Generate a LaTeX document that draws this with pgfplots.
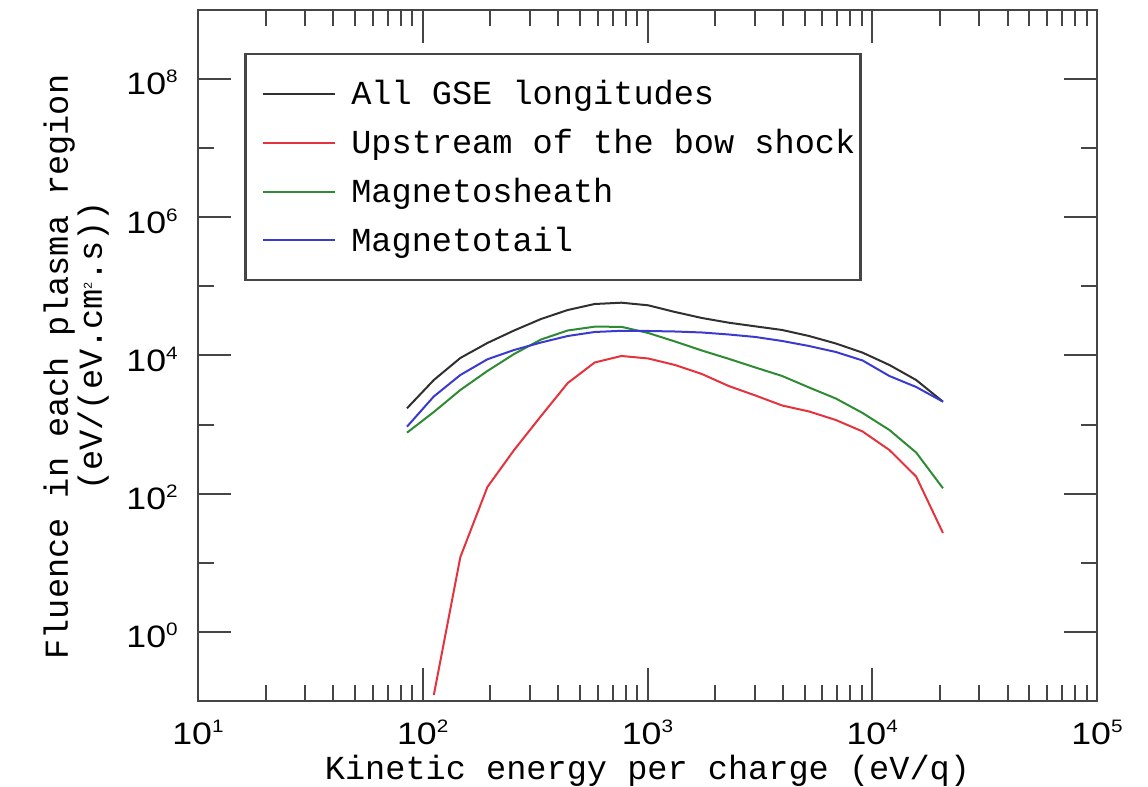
\documentclass[border=0pt]{standalone}
\usepackage{fontspec}
\usepackage{pgfplots}
\usepackage{pgfplotstable}
\pgfplotsset{compat=1.18}
\setmainfont{Liberation Mono}
\newfontfamily\ticksans{Liberation Sans}
\newcommand\lblfont{\fontsize{16.8pt}{17pt}\selectfont}
\newcommand\tk[1]{\scalebox{1.15}[1]{10\raisebox{6pt}{\fontsize{9pt}{9pt}\selectfont #1}}}
\definecolor{framegray}{HTML}{454545}
\definecolor{cAll}{HTML}{303030}
\definecolor{cUp}{HTML}{E5333D}
\definecolor{cSheath}{HTML}{2E8B34}
\definecolor{cTail}{HTML}{3A3AD0}

% Fluence per plasma region versus energy per charge
\pgfplotstableread{
E      all    up     sheath  tail
85.1   1722   nan    764     933
112    4416   0.122  1521    2552
147    9204   12.1   3168    5220
194    15170  125    5970    8810
255    23010  429    10510   12020
336    33750  1331   17050   15420
442    45540  4000   23010   19150
582    55600  7920   26120   21880
766    58080  9840   26000   22760
1007   53250  9050   21170   22630
1325   42630  7290   15950   22240
1745   34900  5400   11810   21530
2296   29850  3620   8960    20140
3021   26400  2637   6700    18530
3975   23390  1889   5050    16220
5231   19150  1549   3444    13720
6883   14920  1166   2387    11240
9057   10990  795    1472    8470
11918  7290   429    836     5050
15682  4416   177    394     3500
20635  2145   27.0   120     2145
}\fluence

\begin{document}
\begin{tikzpicture}
\begin{axis}[
  scale only axis,
  width=449.5pt, height=345.5pt,
  xmode=log, ymode=log,
  xmin=10, xmax=1e5, ymin=0.1, ymax=1e9,
  axis line style={framegray, line width=1.25pt},
  tick style={framegray, line width=1pt},
  tick align=inside,
  major tick length=16.5pt, minor tick length=8pt,
  xtick={10,100,1000,1e4,1e5},
  xticklabels={\tk{1},\tk{2},\tk{3},\tk{4},\tk{5}},
  minor xtick={20,30,40,50,60,70,80,90,200,300,400,500,600,700,800,900,
    2000,3000,4000,5000,6000,7000,8000,9000,20000,30000,40000,50000,60000,70000,80000,90000},
  ytick={1,100,1e4,1e6,1e8},
  yticklabels={\tk{0},\tk{2},\tk{4},\tk{6},\tk{8}},
  minor ytick={0.1,10,1000,1e5,1e7,1e9},
  tick label style={font=\ticksans\fontsize{15.5pt}{15.5pt}\selectfont, inner sep=0pt},
  xticklabel style={anchor=base, yshift=-22pt},
  yticklabel style={anchor=base east, xshift=-10pt, yshift=-7.9pt},
  xlabel={Kinetic energy per charge (eV/q)},
  xlabel style={font=\lblfont, at={(rel axis cs:0.5,-0.1143)}, anchor=base, inner sep=0pt},
  ylabel={Fluence in each plasma region\\\hspace*{21pt}(eV/(eV.cm\raisebox{5pt}{\fontsize{6pt}{6pt}\selectfont 2}.s))},
  ylabel style={font=\lblfont, align=center, at={(rel axis cs:-0.1724,0.4834)}, anchor=north, inner sep=0pt},
  legend cell align=left,
  legend style={at={(rel axis cs:0.0512,0.9378)}, anchor=north west,
    draw=framegray, line width=1.25pt, fill=white, font=\lblfont,
    inner xsep=2.5pt, inner ysep=13pt, row sep=10.75pt,
    nodes={inner sep=0pt}},
  legend image code/.code={\draw[#1] (0pt,0pt) -- (36pt,0pt); \path (-6pt,0pt) (43.5pt,0pt);},
]
\addplot[cAll, line width=1pt] table[x=E, y=all] {\fluence};
\addlegendentry{All GSE longitudes}
\addplot[cUp, line width=1pt] table[x=E, y=up] {\fluence};
\addlegendentry{Upstream of the bow shock}
\addplot[cSheath, line width=1pt] table[x=E, y=sheath] {\fluence};
\addlegendentry{Magnetosheath}
\addplot[cTail, line width=1pt] table[x=E, y=tail] {\fluence};
\addlegendentry{Magnetotail}
\coordinate (bbsw) at (rel axis cs:-0.22024,-0.12446);
\coordinate (bbne) at (rel axis cs:1.05673,1.01447);
\end{axis}
\pgfresetboundingbox
\useasboundingbox (bbsw) rectangle (bbne);
\end{tikzpicture}
\end{document}
